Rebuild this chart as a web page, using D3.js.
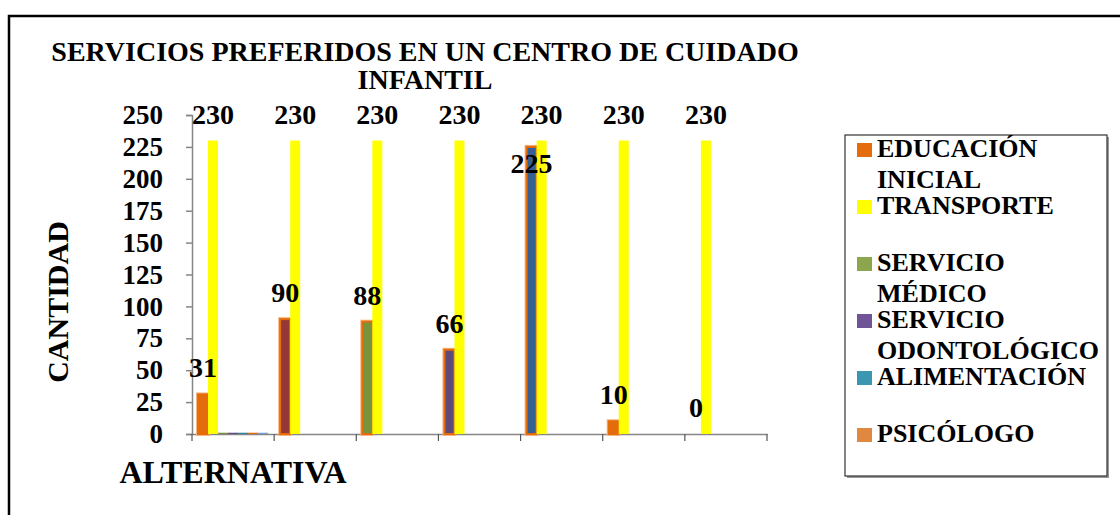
<!DOCTYPE html>
<html>
<head>
<meta charset="utf-8">
<script src="https://cdn.jsdelivr.net/npm/d3@7"></script>
<style>
  body { margin: 0; background: #fff; }
</style>
</head>
<body>
<div id="chart"></div>
<script>
// data
var categories = ["1", "2", "3", "4", "5", "6", "7"];
var seriesNames = ["EDUCACIÓN INICIAL", "TRANSPORTE", "SERVICIO MÉDICO", "SERVICIO ODONTOLÓGICO", "ALIMENTACIÓN", "PSICÓLOGO", "OTROS"];
var educacion = [31, 90, 88, 66, 225, 10, 0];
var transporte = [230, 230, 230, 230, 230, 230, 230];
var medico = [1, 0, 0, 0, 0, 0, 0];
var odontologico = [1, 0, 0, 0, 0, 0, 0];
var alimentacion = [1, 0, 0, 0, 0, 0, 0];
var psicologo = [1, 0, 0, 0, 0, 0, 0];
var otros = [1, 0, 0, 0, 0, 0, 0];
var yTicks = [0, 25, 50, 75, 100, 125, 150, 175, 200, 225, 250];

var seriesValues = [educacion, transporte, medico, odontologico, alimentacion, psicologo, otros];
var seriesColor = ["#e46c0a", "#ffff00", "#77933c", "#604a7b", "#31859c", "#e46c0a", "#7f9fcf"];
var legendColor = ["#e46c0a", "#ffff00", "#8ba64c", "#6f5596", "#3b97b1", "#e0883f"];
// first series uses a different fill per point
var pointFill = ["#e46c0a", "#953735", "#77933c", "#604a7b", "#376092", "#e46c0a", "#e46c0a"];
var legendLabels = [["EDUCACIÓN", "INICIAL"], ["TRANSPORTE"], ["SERVICIO", "MÉDICO"], ["SERVICIO", "ODONTOLÓGICO"], ["ALIMENTACIÓN"], ["PSICÓLOGO"], ["OTROS"]];

var FONT = "'Liberation Serif', 'Times New Roman', Tinos, serif";
var W = 1120, H = 515;
var plot = { left: 192, top: 115, right: 767, bottom: 434 };

function serif(sel, size) {
  return sel.style("font-family", FONT).style("font-weight", "bold")
    .style("font-size", size + "px").attr("fill", "#000");
}

var svg = d3.select("#chart").append("svg")
  .attr("width", W)
  .attr("height", H)
  .style("font-family", FONT);

// outer chart frame (cut off on the right and bottom)
svg.append("rect")
  .attr("x", 9).attr("y", 16)
  .attr("width", 1130).attr("height", 520)
  .attr("fill", "#fff")
  .attr("stroke", "#000")
  .attr("stroke-width", 2.5);

var x0 = d3.scaleBand()
  .domain(categories)
  .range([plot.left, plot.right])
  .padding(0);
var x1 = d3.scaleBand()
  .domain(d3.range(seriesValues.length))
  .range([0, x0.bandwidth()])
  .paddingInner(0)
  .paddingOuter(0.6);
var y = d3.scaleLinear()
  .domain([0, 250])
  .range([plot.bottom, plot.top]);

// title
var title = serif(svg.append("text").attr("text-anchor", "middle"), 28);
title.append("tspan").attr("x", 425).attr("y", 61).text("SERVICIOS PREFERIDOS EN UN CENTRO DE CUIDADO");
title.append("tspan").attr("x", 425).attr("y", 89).text("INFANTIL");

// y axis
var yAxis = d3.axisLeft(y).tickValues(yTicks).tickSize(6).tickPadding(23);
svg.append("g")
  .attr("transform", "translate(" + plot.left + ",0)")
  .call(yAxis)
  .call(function (g) {
    g.select(".domain").attr("stroke", "#868686").attr("stroke-width", 1.5);
    g.selectAll(".tick line").attr("stroke", "#868686").attr("stroke-width", 1.5);
    serif(g.selectAll(".tick text"), 27);
  });

// x axis, no labels, ticks between categories
var xAxis = d3.axisBottom(x0).tickSize(0).tickFormat("");
var xg = svg.append("g")
  .attr("transform", "translate(0," + plot.bottom + ")")
  .call(xAxis);
xg.select(".domain").attr("stroke", "#868686").attr("stroke-width", 1.5);
xg.selectAll(".bound")
  .data(categories.concat(["end"]))
  .enter().append("line")
  .attr("x1", function (d, i) { return i < categories.length ? x0(d) : x0.range()[1]; })
  .attr("x2", function (d, i) { return i < categories.length ? x0(d) : x0.range()[1]; })
  .attr("y1", 0).attr("y2", 7)
  .attr("stroke", "#555")
  .attr("stroke-width", 1.2);

// bars
var barsG = svg.append("g");
seriesValues.forEach(function (vals, s) {
  var g = barsG.append("g");
  if (s === 0) {
    // halo
    g.selectAll("rect.halo")
      .data(vals)
      .enter().append("rect")
      .filter(function (d) { return d > 0; })
      .attr("x", function (d, i) { return x0(categories[i]) + x1(s); })
      .attr("y", function (d) { return y(d); })
      .attr("width", x1.bandwidth())
      .attr("height", function (d) { return y(0) - y(d); })
      .attr("fill", "none")
      .attr("stroke", "#f5b584")
      .attr("stroke-width", 4);
  }
  g.selectAll("rect.bar")
    .data(vals)
    .enter().append("rect")
    .filter(function (d) { return d > 0; })
    .attr("x", function (d, i) { return x0(categories[i]) + x1(s); })
    .attr("y", function (d) { return y(d); })
    .attr("width", x1.bandwidth())
    .attr("height", function (d) { return y(0) - y(d); })
    .attr("fill", function (d, i) { return s === 0 ? pointFill[i] : seriesColor[s]; })
    .attr("stroke", s === 0 ? "#e46c0a" : "none")
    .attr("stroke-width", s === 0 ? 2 : 0);
});

// data labels for the first two series
[0, 1].forEach(function (s) {
  serif(svg.append("g").selectAll("text")
    .data(seriesValues[s])
    .enter().append("text")
    .attr("text-anchor", "middle")
    .attr("x", function (d, i) { return x0(categories[i]) + x1(s) + x1.bandwidth() / 2; })
    .attr("y", function (d) { return s === 0 && d > 200 ? y(d) + 26 : y(d) - 17; })
    .text(function (d) { return d; }), 28);
});

// axis titles
serif(svg.append("text")
  .attr("transform", "translate(57,302) rotate(-90)")
  .attr("text-anchor", "middle")
  .attr("dominant-baseline", "central")
  .text("CANTIDAD"), 30);
serif(svg.append("text")
  .attr("x", 233).attr("y", 483)
  .attr("text-anchor", "middle")
  .text("ALTERNATIVA"), 32);

// legend
var legBox = { x: 845, y: 135, w: 262, h: 341 };
svg.append("rect")
  .attr("x", legBox.x + 2).attr("y", legBox.y + 2)
  .attr("width", legBox.w).attr("height", legBox.h)
  .attr("fill", "#999");
svg.append("rect")
  .attr("x", legBox.x).attr("y", legBox.y)
  .attr("width", legBox.w).attr("height", legBox.h)
  .attr("fill", "#fff")
  .attr("stroke", "#333")
  .attr("stroke-width", 1.2);

var entryStep = 57, lineStep = 31, firstBase = 157;
var shown = seriesNames.map(function (n, i) { return i; })
  .filter(function (i) { return firstBase + i * entryStep < legBox.y + legBox.h - 10; });
var leg = svg.append("g").selectAll("g")
  .data(shown)
  .enter().append("g")
  .attr("transform", function (i) { return "translate(" + (legBox.x + 12) + "," + (firstBase + i * entryStep) + ")"; });
leg.append("rect")
  .attr("x", 0).attr("y", -14)
  .attr("width", 15).attr("height", 14)
  .attr("fill", function (i) { return legendColor[i]; });
serif(leg.append("text"), 26)
  .each(function (i) {
    var t = d3.select(this);
    legendLabels[i].forEach(function (line, k) {
      t.append("tspan").attr("x", 20).attr("y", k * lineStep).text(line);
    });
  });
</script>
</body>
</html>
